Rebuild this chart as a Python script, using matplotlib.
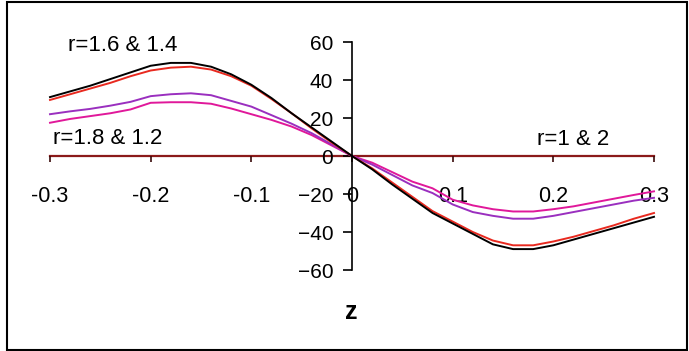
import matplotlib
matplotlib.use("Agg")
import matplotlib.pyplot as plt
from matplotlib.patches import Rectangle

plt.rcParams['font.family'] = ['Liberation Sans', 'DejaVu Sans']

# z positions and curve values
z = [-0.30, -0.28, -0.26, -0.24, -0.22, -0.20, -0.18, -0.16, -0.14, -0.12,
     -0.10, -0.08, -0.06, -0.04, -0.02, 0.00, 0.02, 0.04, 0.06, 0.08,
     0.10, 0.12, 0.14, 0.16, 0.18, 0.20, 0.22, 0.24, 0.26, 0.28, 0.30]

black_vals = [31, 34, 37, 40.5, 44, 47.5, 49, 49, 47, 43,
              37.5, 30.5, 22.5, 15, 7.5, 0, -7, -15, -22.5, -30,
              -35.5, -41, -46.5, -49, -49, -47, -44, -41, -38, -35, -32]
red_vals = [29.5, 32.5, 35.5, 38.5, 42, 45, 46.5, 47, 45.5, 42,
            37, 30, 22.5, 14.5, 7, 0, -6.5, -14, -21.5, -29,
            -34.5, -40, -44.5, -47, -47, -45, -42.5, -39.5, -36.5, -33, -30]
purple_vals = [22, 23.5, 24.8, 26.5, 28.5, 31.5, 32.5, 33, 32, 29,
               26, 21.5, 17, 12, 6, 0, -4.5, -10, -15.5, -19.5,
               -25.5, -29.5, -31.5, -33, -33, -31.5, -29.5, -27.5, -25.5, -23.5, -22]
magenta_vals = [17.5, 19.5, 21, 22.5, 24.5, 28, 28.3, 28.3, 27.5, 25,
                22, 19, 15.5, 11, 5.5, 0, -3.5, -8.5, -13.5, -17,
                -23, -26, -28, -29.2, -29.2, -28, -26.5, -24.5, -22.5, -20.5, -18.6]

x_ticks = [-0.3, -0.2, -0.1, 0, 0.1, 0.2, 0.3]
x_labels = ["-0.3", "-0.2", "-0.1", "0", "0.1", "0.2", "0.3"]
y_ticks = [-60, -40, -20, 0, 20, 40, 60]

W, H = 689, 351
fig = plt.figure(figsize=(W / 100, H / 100), dpi=100)
ax = fig.add_axes([50 / W, 1 - 270 / H, 604 / W, 228 / H])

ax.plot(z, magenta_vals, color="#e0189a", lw=1.4, clip_on=False)
ax.plot(z, purple_vals, color="#9a2fbf", lw=1.4, clip_on=False)
ax.plot(z, red_vals, color="#e8291f", lw=1.4, clip_on=False)
ax.plot(z, black_vals, color="black", lw=1.4, clip_on=False)

ax.set_xlim(-0.3, 0.3)
ax.set_ylim(-60, 60)

for s in ["top", "right"]:
    ax.spines[s].set_visible(False)
ax.spines["left"].set_position(("data", 0))
ax.spines["bottom"].set_position(("data", 0))
ax.spines["bottom"].set_color("#8b1a1a")
ax.spines["bottom"].set_linewidth(1.6)
ax.spines["left"].set_linewidth(1.2)
ax.spines["bottom"].set_zorder(1)

ax.set_xticks(x_ticks)
ax.set_xticklabels(x_labels)
ax.set_yticks(y_ticks)
ax.tick_params(axis="x", direction="out", length=4.5, width=1.2, color="#3a0a0a",
               pad=17, labelsize=15.5)
ax.tick_params(axis="y", direction="out", length=6.5, width=1.2, color="black",
               pad=7, labelsize=15)

ax.text(-0.282, 55.3, "r=1.6 & 1.4", fontsize=16, va="baseline", ha="left")
ax.text(-0.297, 6.3, "r=1.8 & 1.2", fontsize=16, va="baseline", ha="left")
ax.text(0.184, 5.8, "r=1 & 2", fontsize=16, va="baseline", ha="left")

fig.text(351 / W, 1 - 312 / H, "z", fontsize=18, fontweight="bold",
         ha="center", va="center")

fig.patches.append(Rectangle((7 / W, 1 / H), 680 / W, 348 / H, transform=fig.transFigure,
                             fill=False, edgecolor="black", lw=1.5))

fig.savefig("out.png", dpi=100)
